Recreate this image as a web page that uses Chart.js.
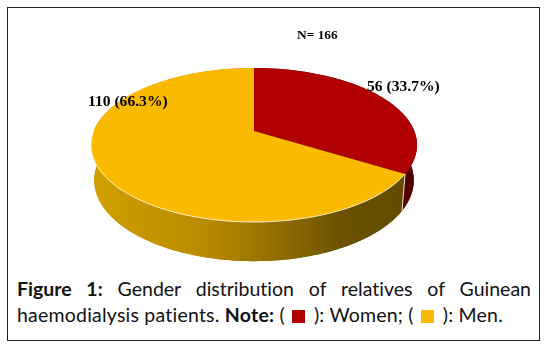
<!DOCTYPE html>
<html>
<head>
<meta charset="utf-8">
<script src="https://cdn.jsdelivr.net/npm/chart.js@4"></script>
<style>
  html, body { margin: 0; background: #fff; }
  #frame { position: absolute; left: 7px; top: 7px; width: 531px; height: 332px; border: 1.4px solid #222; }
  #chartWrap { position: absolute; left: 0; top: 0; width: 546px; height: 270px; }
  #caption { position: absolute; left: 17px; top: 276px; width: 514px; color: #111;
    font: 19.5px/25.5px Lato, sans-serif; font-variant-ligatures: none; }
  #caption .first { text-align: justify; text-align-last: justify; }
  #caption .second { letter-spacing: 0.22px; white-space: nowrap; }
  .swatch { display: inline-block; width: 13px; height: 13px; margin: 0 9px 0 7px; vertical-align: -1px; }
</style>
</head>
<body>
<div id="frame"></div>
<div id="chartWrap"><canvas id="myChart" width="546" height="270"></canvas></div>
<div id="caption">
  <div class="first"><b>Figure 1:</b> Gender distribution of relatives of Guinean</div>
  <div class="second">haemodialysis patients. <b>Note:</b> (<span class="swatch" style="background:#b00000"></span>): Women; (<span class="swatch" style="background:#fbb900"></span>): Men.</div>
</div>
<script>
const categories = ['Women', 'Men'];
const counts = [56, 110];
const sliceLabels = ['56 (33.7%)', '110 (66.3%)'];
const sampleSize = 'N= 166';
const topColors = ['#b00000', '#fbb900'];

// perspective of the disc: far edge is squeezed, near edge stretched
const apexX = 254, apexY = 131;
const discA = 160.3, discB = 74.45, persp = 0.1818;
const rimMidY = 144.7, bottomScaleX = 0.98, bottomScaleY = 1.05, bottomMidY = 180;

function topPoint(theta) {
  const u = Math.sin(theta), v = Math.cos(theta);
  const w = 1 + persp * v;
  return [apexX + discA * u / w, apexY - discB * v / w];
}
function bottomPoint(theta) {
  const p = topPoint(theta);
  return [apexX + (p[0] - apexX) * bottomScaleX, bottomMidY + (p[1] - rimMidY) * bottomScaleY];
}
function rim(ctx, pointFn, from, to) {
  const steps = Math.max(4, Math.ceil(Math.abs(to - from) / 0.02));
  for (let i = 0; i <= steps; i++) {
    const p = pointFn(from + (to - from) * i / steps);
    ctx.lineTo(p[0], p[1]);
  }
}
function sideFill(ctx, index) {
  if (index == 0) return '#520000';
  const g = ctx.createLinearGradient(91, 0, 403, 0);
  g.addColorStop(0, '#d2a000');
  g.addColorStop(0.37, '#b88a00');
  g.addColorStop(0.55, '#9a7400');
  g.addColorStop(0.8, '#6c5200');
  g.addColorStop(1, '#624a00');
  return g;
}

const pie3d = {
  id: 'pie3d',
  beforeDatasetsDraw(chart) {
    const ctx = chart.ctx;
    const arcs = chart.getDatasetMeta(0).data;
    const angles = arcs.map(a => [a.startAngle + Math.PI / 2, a.endAngle + Math.PI / 2]);
    ctx.save();
    // side wall first, the top disc covers whatever is behind
    angles.forEach((t, i) => {
      ctx.fillStyle = sideFill(ctx, i);
      ctx.beginPath();
      rim(ctx, topPoint, t[0], t[1]);
      rim(ctx, bottomPoint, t[1], t[0]);
      ctx.closePath();
      ctx.fill();
      ctx.beginPath();
      ctx.moveTo(apexX, bottomMidY);
      rim(ctx, bottomPoint, t[0], t[1]);
      ctx.closePath();
      ctx.fill();
    });
    // top of the pie
    angles.forEach((t, i) => {
      ctx.fillStyle = arcs[i].options.backgroundColor;
      ctx.beginPath();
      ctx.moveTo(apexX, apexY);
      rim(ctx, topPoint, t[0], t[1]);
      ctx.closePath();
      ctx.fill();
    });
    // light edge along the front of the rim
    const split = angles[1][0];
    ctx.strokeStyle = 'rgba(255,250,225,0.9)';
    ctx.lineWidth = 1;
    ctx.beginPath();
    rim(ctx, topPoint, split, Math.PI * 1.5);
    ctx.stroke();
    ctx.beginPath();
    const a = topPoint(split), b = bottomPoint(split);
    ctx.moveTo(a[0], a[1]);
    ctx.lineTo(b[0], b[1]);
    ctx.stroke();
    // labels
    ctx.fillStyle = '#000';
    ctx.textBaseline = 'middle';
    ctx.font = 'bold 15.6px "Liberation Serif"';
    ctx.fillText(sliceLabels[0], 367, 87);
    ctx.fillText(sliceLabels[1], 88, 102);
    ctx.font = 'bold 13.4px "Liberation Serif"';
    ctx.fillText(sampleSize, 297, 36);
    ctx.restore();
    return false;
  }
};

new Chart(document.getElementById('myChart'), {
  type: 'pie',
  data: {
    labels: categories,
    datasets: [{ data: counts, backgroundColor: topColors, borderWidth: 0 }],
  },
  options: {
    responsive: false,
    animation: false,
    plugins: { legend: { display: false }, tooltip: { enabled: false } },
  },
  plugins: [pie3d],
});
</script>
</body>
</html>
